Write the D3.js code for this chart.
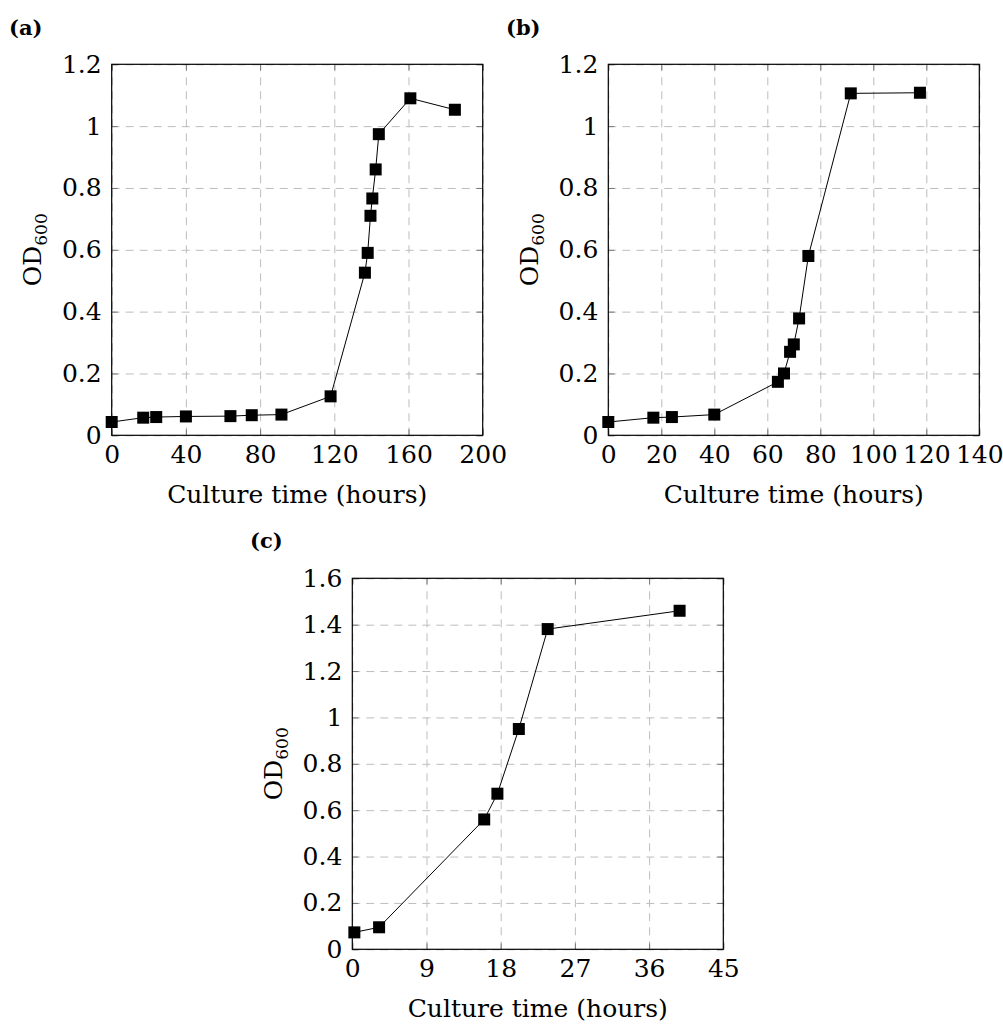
<!DOCTYPE html>
<html>
<head>
<meta charset="utf-8">
<script src="https://cdn.jsdelivr.net/npm/d3@7"></script>
<style>
  body { margin: 0; background: #fff; }
  svg { display: block; }
  text { font-family: "DejaVu Serif", serif; fill: #000; }
</style>
</head>
<body>
<script>
var width = 1003;
var height = 1026;

// ------- data --------

// panel (a)
var timeA = [0, 17, 24, 40, 64, 75.5, 91.5, 118, 136.5, 138, 139.5, 140.5, 142.3, 144, 161, 185];
var odA = [0.043, 0.057, 0.059, 0.061, 0.062, 0.065, 0.067, 0.126, 0.526, 0.59, 0.71, 0.766, 0.86, 0.974, 1.09, 1.053];
var xTicksA = [0, 40, 80, 120, 160, 200];
var yTicksA = [0, 0.2, 0.4, 0.6, 0.8, 1, 1.2];

// panel (b)
var timeB = [0, 17, 24, 40, 64, 66.3, 68.6, 70, 72, 75.5, 91.5, 117.6];
var odB = [0.043, 0.057, 0.059, 0.067, 0.173, 0.2, 0.27, 0.294, 0.378, 0.58, 1.106, 1.108];
var xTicksB = [0, 20, 40, 60, 80, 100, 120, 140];
var yTicksB = [0, 0.2, 0.4, 0.6, 0.8, 1, 1.2];

// panel (c)
var timeC = [0.25, 3.25, 16, 17.6, 20.2, 23.7, 39.7];
var odC = [0.073, 0.095, 0.56, 0.671, 0.95, 1.381, 1.46];
var xTicksC = [0, 9, 18, 27, 36, 45];
var yTicksC = [0, 0.2, 0.4, 0.6, 0.8, 1, 1.2, 1.4, 1.6];

var svg = d3.select('body')
    .append('svg')
    .attr('width', width)
    .attr('height', height);

function drawPanel(p) {
    var w = 371, h = 371;
    var g = svg.append('g').attr('transform', 'translate(' + p.left + ',' + p.top + ')');

    var x = d3.scaleLinear().domain([p.xTicks[0], p.xTicks[p.xTicks.length - 1]]).range([0, w]);
    var y = d3.scaleLinear().domain([p.yTicks[0], p.yTicks[p.yTicks.length - 1]]).range([h, 0]);

    // grid
    g.append('g').attr('class', 'grid')
        .attr('transform', 'translate(0,' + h + ')')
        .call(d3.axisBottom(x).tickValues(p.xTicks).tickSize(-h).tickFormat(''));
    g.append('g').attr('class', 'grid')
        .call(d3.axisLeft(y).tickValues(p.yTicks).tickSize(-w).tickFormat(''));
    g.selectAll('.grid .domain').remove();
    g.selectAll('.grid line')
        .attr('stroke', '#bdbdbd')
        .attr('stroke-width', 1)
        .attr('stroke-dasharray', '8,6');

    // inner ticks on all four sides
    var tk = 6;
    g.append('g').attr('class', 'tk').attr('transform', 'translate(0,' + h + ')')
        .call(d3.axisBottom(x).tickValues(p.xTicks).tickSize(-tk).tickFormat(''));
    g.append('g').attr('class', 'tk')
        .call(d3.axisTop(x).tickValues(p.xTicks).tickSize(-tk).tickFormat(''));
    g.append('g').attr('class', 'tk')
        .call(d3.axisLeft(y).tickValues(p.yTicks).tickSize(-tk).tickFormat(''));
    g.append('g').attr('class', 'tk').attr('transform', 'translate(' + w + ',0)')
        .call(d3.axisRight(y).tickValues(p.yTicks).tickSize(-tk).tickFormat(''));
    g.selectAll('.tk .domain').remove();
    g.selectAll('.tk line').attr('stroke', '#777').attr('stroke-width', 1);

    // tick labels
    var lx = g.append('g').attr('transform', 'translate(0,' + h + ')')
        .call(d3.axisBottom(x).tickValues(p.xTicks).tickSize(0).tickPadding(10).tickFormat(function(d) { return String(d); }));
    var ly = g.append('g')
        .call(d3.axisLeft(y).tickValues(p.yTicks).tickSize(0).tickPadding(10).tickFormat(function(d) { return String(d); }));
    lx.select('.domain').remove();
    ly.select('.domain').remove();
    lx.selectAll('text').attr('font-size', 25).attr('font-family', '"DejaVu Serif", serif').attr('fill', '#000');
    ly.selectAll('text').attr('font-size', 25).attr('font-family', '"DejaVu Serif", serif').attr('fill', '#000');

    // frame
    g.append('rect')
        .attr('x', 0).attr('y', 0)
        .attr('width', w).attr('height', h)
        .attr('fill', 'none')
        .attr('stroke', '#000')
        .attr('stroke-width', 1.2);

    // data
    var pts = p.time.map(function(t, i) { return { t: t, v: p.od[i] }; });
    var line = d3.line()
        .x(function(d) { return x(d.t); })
        .y(function(d) { return y(d.v); });
    g.append('path')
        .datum(pts)
        .attr('d', line)
        .attr('fill', 'none')
        .attr('stroke', '#000')
        .attr('stroke-width', 1);

    var s = 12;
    g.selectAll('rect.mk')
        .data(pts)
        .enter()
        .append('rect')
        .attr('class', 'mk')
        .attr('x', function(d) { return x(d.t) - s / 2; })
        .attr('y', function(d) { return y(d.v) - s / 2; })
        .attr('width', s)
        .attr('height', s)
        .attr('fill', '#000');

    // axis titles
    g.append('text')
        .attr('x', w / 2)
        .attr('y', h + 59)
        .attr('dy', '0.35em')
        .attr('text-anchor', 'middle')
        .attr('font-size', 25)
        .text('Culture time (hours)');

    var yl = g.append('text')
        .attr('transform', 'translate(-79,' + (h / 2) + ') rotate(-90)')
        .attr('text-anchor', 'middle')
        .attr('dy', '0.35em')
        .attr('font-size', 25);
    yl.append('tspan').text('OD');
    yl.append('tspan').attr('font-size', 17).attr('dy', 6).text('600');

    // panel letter
    svg.append('text')
        .attr('x', p.labelX)
        .attr('y', p.labelY)
        .attr('font-size', 21)
        .attr('font-weight', 'bold')
        .text(p.label);
}

drawPanel({ left: 111.7, top: 64.3, time: timeA, od: odA, xTicks: xTicksA, yTicks: yTicksA, label: '(a)', labelX: 9, labelY: 35 });
drawPanel({ left: 608.3, top: 64.3, time: timeB, od: odB, xTicks: xTicksB, yTicks: yTicksB, label: '(b)', labelX: 506, labelY: 35 });
drawPanel({ left: 352.3, top: 578.3, time: timeC, od: odC, xTicks: xTicksC, yTicks: yTicksC, label: '(c)', labelX: 250, labelY: 548 });
</script>
</body>
</html>
